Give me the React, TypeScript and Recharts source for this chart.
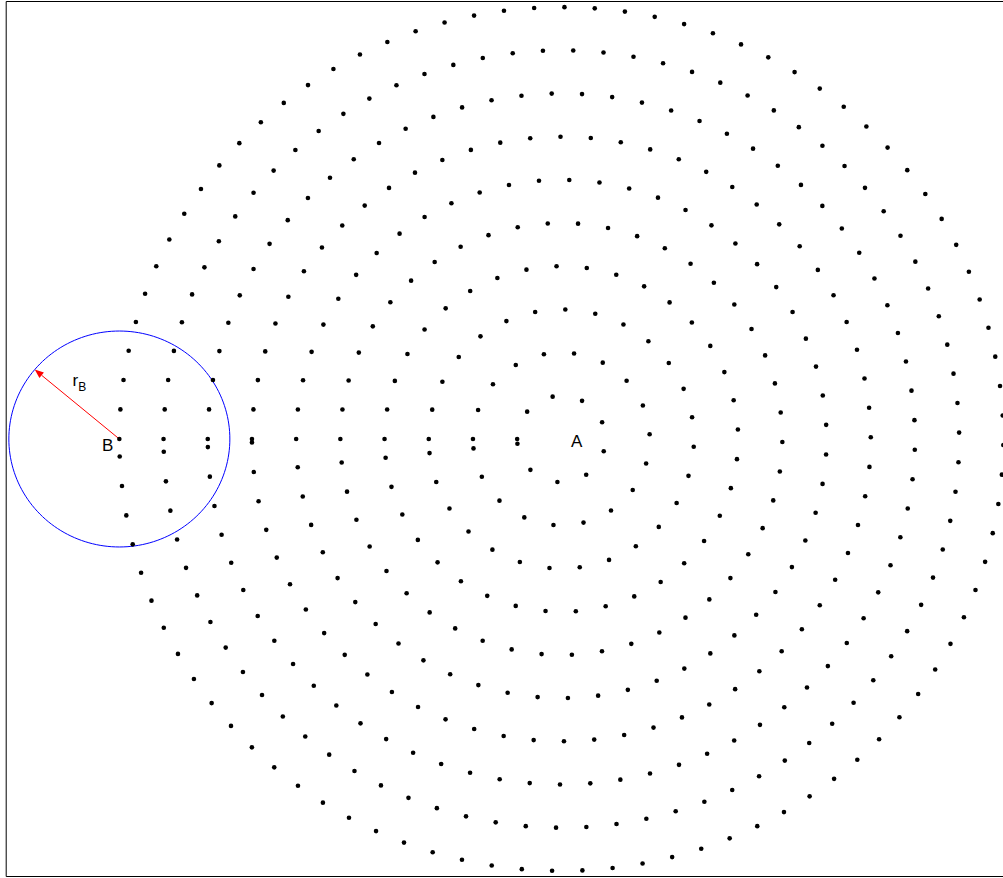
import React from "react";
import {
  ScatterChart,
  Scatter,
  XAxis,
  YAxis,
  ReferenceArea,
  ReferenceLine,
  ReferenceDot,
} from "recharts";

// Rings of sample points around A (radius in data units)
const ringRadii = [1, 2, 3, 4, 5, 6, 7, 8, 9, 10];
// Points on each ring, counted off the picture
const ringCounts = [10, 19, 28, 37, 46, 55, 65, 74, 83, 92];
// Distance between neighbours along a ring
const ringSpacing = 0.686;

const pointA = { x: 0, y: 0 };
const pointB = { x: -10, y: 0 };
const radiusB = 2.5;
const arrowAngleDeg = 140;

const xDomain: [number, number] = [-12.56, 10.15];
const yDomain: [number, number] = [-10.13, 10.13];

// each ring starts on the left (angle pi) and walks clockwise
const ringPoints = ringRadii.flatMap((r, i) =>
  Array.from({ length: ringCounts[i] }, (_, j) => {
    const t = Math.PI - (j * ringSpacing) / r;
    return { x: pointA.x + r * Math.cos(t), y: pointA.y + r * Math.sin(t) };
  })
);

// outline of the neighbourhood circle round B
const circleB = Array.from({ length: 181 }, (_, k) => {
  const t = (k / 180) * 2 * Math.PI;
  return { x: pointB.x + radiusB * Math.cos(t), y: pointB.y + radiusB * Math.sin(t) };
});

const arrowTip = {
  x: pointB.x + radiusB * Math.cos((arrowAngleDeg * Math.PI) / 180),
  y: pointB.y + radiusB * Math.sin((arrowAngleDeg * Math.PI) / 180),
};
const arrowMid = { x: (pointB.x + arrowTip.x) / 2, y: (pointB.y + arrowTip.y) / 2 };

const FONT = "'Liberation Sans', Arial, Helvetica, sans-serif";

const Dot = (props: any) => <circle cx={props.cx} cy={props.cy} r={2.3} fill="#000" />;

const Arrow = (props: any) => {
  const { x1, y1, x2, y2 } = props;
  const a = Math.atan2(y2 - y1, x2 - x1);
  const len = 9;
  const w = 3.5;
  const bx = x2 - len * Math.cos(a);
  const by = y2 - len * Math.sin(a);
  const pts = [
    [x2, y2],
    [bx + w * Math.sin(a), by - w * Math.cos(a)],
    [bx - w * Math.sin(a), by + w * Math.cos(a)],
  ]
    .map((p) => p.join(","))
    .join(" ");
  return (
    <g>
      <line x1={x1} y1={y1} x2={bx} y2={by} stroke="#ff0000" strokeWidth={1} />
      <polygon points={pts} fill="#ff0000" />
    </g>
  );
};

export default function App() {
  return (
    <div
      style={{
        position: "absolute",
        left: 0,
        top: 0,
        width: 1003,
        height: 878,
        overflow: "hidden",
        background: "#fff",
      }}
    >
      <ScatterChart
        width={1012}
        height={878}
        margin={{ top: 1.5, right: 2, left: 6.2, bottom: 1.5 }}
      >
        <XAxis type="number" dataKey="x" domain={xDomain} allowDataOverflow hide />
        <YAxis type="number" dataKey="y" domain={yDomain} allowDataOverflow hide />

        {/* axes box */}
        <ReferenceArea
          x1={xDomain[0]}
          x2={xDomain[1]}
          y1={yDomain[0]}
          y2={yDomain[1]}
          fill="none"
          fillOpacity={0}
          stroke="#000"
          strokeWidth={1}
          ifOverflow="visible"
        />

        <Scatter
          data={circleB}
          fill="#0000ff"
          line={{ stroke: "#0000ff", strokeWidth: 1 }}
          shape={() => <g />}
          isAnimationActive={false}
        />

        <Scatter data={ringPoints} shape={Dot} isAnimationActive={false} />

        <ReferenceLine
          segment={[pointB, arrowTip]}
          stroke="#ff0000"
          shape={Arrow}
          ifOverflow="visible"
        />

        <ReferenceDot
          x={pointA.x}
          y={pointA.y}
          r={0}
          ifOverflow="visible"
          shape={(p: any) => (
            <text x={p.cx + 15.3} y={p.cy + 8} fontSize={17} fontFamily={FONT} textAnchor="middle" fill="#000">
              A
            </text>
          )}
        />
        <ReferenceDot
          x={pointB.x}
          y={pointB.y}
          r={0}
          ifOverflow="visible"
          shape={(p: any) => (
            <text x={p.cx - 11.7} y={p.cy + 12.2} fontSize={17} fontFamily={FONT} textAnchor="middle" fill="#000">
              B
            </text>
          )}
        />
        <ReferenceDot
          x={arrowMid.x}
          y={arrowMid.y}
          r={0}
          ifOverflow="visible"
          shape={(p: any) => (
            <text x={p.cx - 4.5} y={p.cy - 18.5} fontSize={17} fontFamily={FONT} fill="#000">
              r
              <tspan fontSize={12} dy={5}>
                B
              </tspan>
            </text>
          )}
        />
      </ScatterChart>
    </div>
  );
}
